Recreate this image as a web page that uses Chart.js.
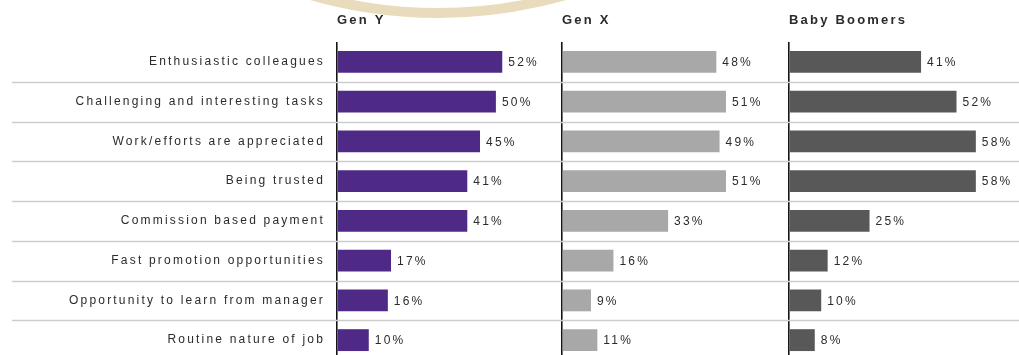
<!DOCTYPE html>
<html>
<head>
<meta charset="utf-8">
<script src="https://cdn.jsdelivr.net/npm/chart.js@4.4.1/dist/chart.umd.min.js"></script>
<style>
  html, body { margin: 0; padding: 0; background: #ffffff; overflow: hidden; }
  #clip { width: 1019px; height: 355px; overflow: hidden; position: relative; }
  canvas { position: absolute; left: 0; top: 0; }
</style>
</head>
<body>
<div id="clip"><canvas id="c" width="1019" height="362"></canvas></div>
<script>
// ---- data ----
const categories = [
  'Enthusiastic colleagues',
  'Challenging and interesting tasks',
  'Work/efforts are appreciated',
  'Being trusted',
  'Commission based payment',
  'Fast promotion opportunities',
  'Opportunity to learn from manager',
  'Routine nature of job'
];
const groupNames = ['Gen Y', 'Gen X', 'Baby Boomers'];
const genY    = [52, 50, 45, 41, 41, 17, 16, 10];
const genX    = [48, 51, 49, 51, 33, 16, 9, 11];
const boomers = [41, 52, 58, 58, 25, 12, 10, 8];

// ---- styling ----
const colors = ['#4e2a86', '#a8a8a8', '#585858'];
const axisIds = ['xY', 'xX', 'xB'];
const weights = [225, 227, 230];
const maxes = [70.8, 70.6, 71.4];
const seriesList = [genY, genX, boomers];
const FONT = "'Liberation Sans', Arial, sans-serif";

const datasets = seriesList.map((vals, i) => ({
  label: groupNames[i],
  data: vals,
  backgroundColor: colors[i],
  borderWidth: 0,
  xAxisID: axisIds[i],
  yAxisID: 'y',
  grouped: false,
  barPercentage: 0.55,
  categoryPercentage: 1.0
}));

const scales = {
  y: {
    type: 'category',
    position: 'left',
    grid: { display: false, drawTicks: false },
    border: { display: false },
    ticks: {
      color: '#2b2b2b',
      font: { family: FONT, size: 12 },
      padding: 12,
      autoSkip: false
    },
    afterFit: (s) => { s.width = 337; s.paddingTop = 0; s.paddingBottom = 0; }
  }
};
// top boxes are laid out in reverse order, so define them last-to-first
[2, 1, 0].forEach((i) => {
  scales[axisIds[i]] = {
    type: 'linear',
    position: 'top',
    stack: 'cols',
    stackWeight: weights[i],
    min: 0,
    max: maxes[i],
    border: { display: false },
    grid: {
      drawTicks: false,
      lineWidth: 1.6,
      color: (c) => (c.tick && c.tick.value === 0) ? '#151515' : 'rgba(0,0,0,0)'
    },
    ticks: { display: false, stepSize: 10 },
    title: {
      display: true,
      text: groupNames[i],
      align: 'start',
      color: '#2b2b2b',
      font: { family: FONT, size: 13, weight: 'bold' },
      padding: { top: 13, bottom: 0 }
    },
    afterFit: (s) => { s.height = 42; }
  };
});

const decoPlugin = {
  id: 'deco',
  beforeDraw(chart) {
    const ctx = chart.ctx;
    ctx.letterSpacing = '2.2px';
    ctx.save();
    ctx.beginPath();
    ctx.arc(438, -446, 459, 0.05 * Math.PI, 0.95 * Math.PI);
    ctx.lineWidth = 10;
    ctx.strokeStyle = '#e8dcbd';
    ctx.stroke();
    ctx.restore();
  },
  beforeDatasetsDraw(chart) {
    const ctx = chart.ctx;
    const y = chart.scales.y;
    ctx.save();
    ctx.strokeStyle = '#cdcdcd';
    ctx.lineWidth = 1.5;
    for (let i = 0; i < categories.length - 1; i++) {
      const py = Math.round((y.getPixelForValue(i) + y.getPixelForValue(i + 1)) / 2) + 0.5;
      ctx.beginPath();
      ctx.moveTo(12, py);
      ctx.lineTo(chart.width, py);
      ctx.stroke();
    }
    ctx.restore();
  },
  afterDatasetsDraw(chart) {
    const ctx = chart.ctx;
    ctx.save();
    ctx.letterSpacing = '2.2px';
    ctx.font = '12px ' + FONT;
    ctx.fillStyle = '#2b2b2b';
    ctx.textAlign = 'left';
    ctx.textBaseline = 'middle';
    chart.data.datasets.forEach((ds, di) => {
      const meta = chart.getDatasetMeta(di);
      meta.data.forEach((bar, j) => {
        ctx.fillText(ds.data[j] + '%', bar.x + 6, bar.y + 1);
      });
    });
    ctx.restore();
  }
};

new Chart(document.getElementById('c'), {
  type: 'bar',
  data: { labels: categories, datasets },
  options: {
    indexAxis: 'y',
    responsive: false,
    maintainAspectRatio: false,
    devicePixelRatio: 1,
    animation: false,
    layout: { padding: { left: 0, right: 0, top: 0, bottom: 2 } },
    plugins: { legend: { display: false }, tooltip: { enabled: false } },
    scales
  },
  plugins: [decoPlugin]
});
</script>
</body>
</html>
